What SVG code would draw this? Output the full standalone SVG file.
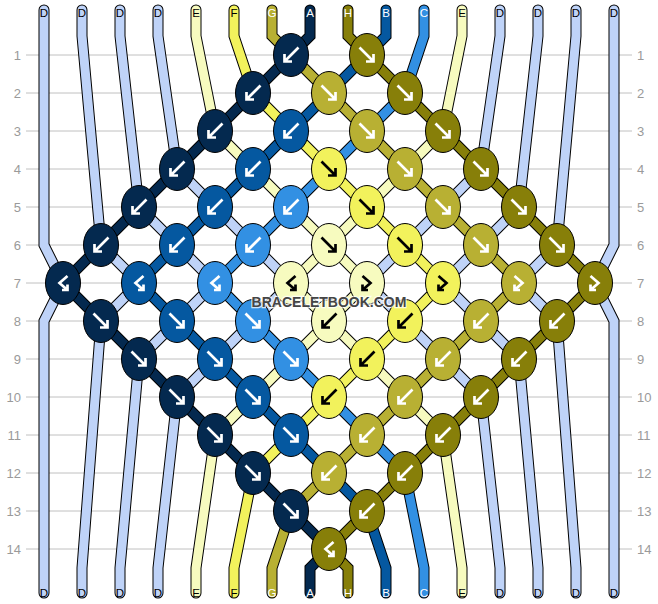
<svg xmlns="http://www.w3.org/2000/svg" width="658" height="604" viewBox="0 0 658 604">
<style>
.grid{stroke:#c0c0c0;stroke-width:1}
.rl{font-family:"Liberation Sans",Arial,sans-serif;font-size:13px;fill:#9a9a9a}
.o{fill:none;stroke:#000;stroke-width:11;stroke-linecap:round;stroke-linejoin:miter}
.s{fill:none;stroke-width:9;stroke-linecap:round;stroke-linejoin:miter}
.sA{stroke:#04294f}.sB{stroke:#0558a0}.sC{stroke:#3290e3}.sD{stroke:#bfd3f8}.sE{stroke:#f7fbbf}.sF{stroke:#f2f25c}.sG{stroke:#b8b033}.sH{stroke:#877f09}
.kA{fill:#04294f}.kB{fill:#0558a0}.kC{fill:#3290e3}.kE{fill:#f7fbbf}.kF{fill:#f2f25c}.kG{fill:#b8b033}.kH{fill:#877f09}
ellipse{stroke:#000;stroke-width:1}
.w{fill:none;stroke:#fff;stroke-width:2.7}
.b{fill:none;stroke:#000;stroke-width:2.7}
.lt{font-family:"Liberation Sans",Arial,sans-serif;font-size:11.5px;text-anchor:middle}
.lw{fill:#fff}.lk{fill:#000}
.wm{font-family:"Liberation Sans",Arial,sans-serif;font-size:14px;font-weight:bold;fill:#454545;stroke:#fff;stroke-width:2.5;stroke-opacity:0.75;paint-order:stroke;text-anchor:middle}
</style>
<defs>
<path id="af" d="M-7.5,-7.5 L6.5,6.5 M6.5,-1 V6.5 H-1"/>
<path id="ab" d="M7.5,-7.5 L-6.5,6.5 M-6.5,-1 V6.5 H1"/>
<path id="abf" d="M4.5,-7 L-3.5,0 L4.5,7 M4.5,1.5 V7 H-1"/>
<path id="afb" d="M-4.5,-7 L3.5,0 L-4.5,7 M-4.5,1.5 V7 H1"/>
</defs>
<rect width="658" height="604" fill="#fff"/>
<g id="grid">
<line class="grid" x1="26" y1="55" x2="632" y2="55"/><line class="grid" x1="26" y1="93" x2="632" y2="93"/><line class="grid" x1="26" y1="131" x2="632" y2="131"/><line class="grid" x1="26" y1="169" x2="632" y2="169"/><line class="grid" x1="26" y1="207" x2="632" y2="207"/><line class="grid" x1="26" y1="245" x2="632" y2="245"/><line class="grid" x1="26" y1="283" x2="632" y2="283"/><line class="grid" x1="26" y1="321" x2="632" y2="321"/><line class="grid" x1="26" y1="359" x2="632" y2="359"/><line class="grid" x1="26" y1="397" x2="632" y2="397"/><line class="grid" x1="26" y1="435" x2="632" y2="435"/><line class="grid" x1="26" y1="473" x2="632" y2="473"/><line class="grid" x1="26" y1="511" x2="632" y2="511"/><line class="grid" x1="26" y1="549" x2="632" y2="549"/>
</g>
<g id="row-labels" class="rl">
<g text-anchor="end">
<text x="21" y="59.5">1</text><text x="21" y="97.5">2</text><text x="21" y="135.5">3</text><text x="21" y="173.5">4</text><text x="21" y="211.5">5</text><text x="21" y="249.5">6</text><text x="21" y="287.5">7</text><text x="21" y="325.5">8</text><text x="21" y="363.5">9</text><text x="21" y="401.5">10</text><text x="21" y="439.5">11</text><text x="21" y="477.5">12</text><text x="21" y="515.5">13</text><text x="21" y="553.5">14</text>
</g>
<g text-anchor="start">
<text x="637" y="59.5">1</text><text x="637" y="97.5">2</text><text x="637" y="135.5">3</text><text x="637" y="173.5">4</text><text x="637" y="211.5">5</text><text x="637" y="249.5">6</text><text x="637" y="287.5">7</text><text x="637" y="325.5">8</text><text x="637" y="363.5">9</text><text x="637" y="401.5">10</text><text x="637" y="439.5">11</text><text x="637" y="477.5">12</text><text x="637" y="515.5">13</text><text x="637" y="553.5">14</text>
</g>
</g>
<g id="connectors">
<g id="outlines" class="o">
<path d="M44,10 V245 L63,283 L44,321 V593"/>
<path d="M82,10 V36 L101,245 L139,283 L101,321 L82,568 V593"/>
<path d="M120,10 V36 L139,207 L177,245 L215,283 L177,321 L139,359 L120,568 V593"/>
<path d="M158,10 V36 L177,169 L215,207 L253,245 L291,283 L253,321 L215,359 L177,397 L158,568 V593"/>
<path d="M196,10 V36 L215,131 L253,169 L291,207 L329,245 L367,283 L329,321 L291,359 L253,397 L215,435 L196,568 V593"/>
<path d="M234,10 V36 L253,93 L291,131 L329,169 L367,207 L405,245 L443,283 L405,321 L367,359 L329,397 L291,435 L253,473 L234,568 V593"/>
<path d="M272,10 V36 L291,55 L329,93 L367,131 L405,169 L443,207 L481,245 L519,283 L481,321 L443,359 L405,397 L367,435 L329,473 L291,511 L272,568 V593"/>
<path d="M310,10 V36 L291,55 L253,93 L215,131 L177,169 L139,207 L101,245 L63,283 L101,321 L139,359 L177,397 L215,435 L253,473 L291,511 L329,549 L310,568 V593"/>
<path d="M348,10 V36 L367,55 L405,93 L443,131 L481,169 L519,207 L557,245 L595,283 L557,321 L519,359 L481,397 L443,435 L405,473 L367,511 L329,549 L348,568 V593"/>
<path d="M386,10 V36 L367,55 L329,93 L291,131 L253,169 L215,207 L177,245 L139,283 L177,321 L215,359 L253,397 L291,435 L329,473 L367,511 L386,568 V593"/>
<path d="M424,10 V36 L405,93 L367,131 L329,169 L291,207 L253,245 L215,283 L253,321 L291,359 L329,397 L367,435 L405,473 L424,568 V593"/>
<path d="M462,10 V36 L443,131 L405,169 L367,207 L329,245 L291,283 L329,321 L367,359 L405,397 L443,435 L462,568 V593"/>
<path d="M500,10 V36 L481,169 L443,207 L405,245 L367,283 L405,321 L443,359 L481,397 L500,568 V593"/>
<path d="M538,10 V36 L519,207 L481,245 L443,283 L481,321 L519,359 L538,568 V593"/>
<path d="M576,10 V36 L557,245 L519,283 L557,321 L576,568 V593"/>
<path d="M614,10 V245 L595,283 L614,321 V593"/>
</g>
<g id="strings">
<path id="s0" class="s sD" d="M44,10 V245 L63,283 L44,321 V593"/>
<path id="s1" class="s sD" d="M82,10 V36 L101,245 L139,283 L101,321 L82,568 V593"/>
<path id="s2" class="s sD" d="M120,10 V36 L139,207 L177,245 L215,283 L177,321 L139,359 L120,568 V593"/>
<path id="s3" class="s sD" d="M158,10 V36 L177,169 L215,207 L253,245 L291,283 L253,321 L215,359 L177,397 L158,568 V593"/>
<path id="s4" class="s sE" d="M196,10 V36 L215,131 L253,169 L291,207 L329,245 L367,283 L329,321 L291,359 L253,397 L215,435 L196,568 V593"/>
<path id="s5" class="s sF" d="M234,10 V36 L253,93 L291,131 L329,169 L367,207 L405,245 L443,283 L405,321 L367,359 L329,397 L291,435 L253,473 L234,568 V593"/>
<path id="s6" class="s sG" d="M272,10 V36 L291,55 L329,93 L367,131 L405,169 L443,207 L481,245 L519,283 L481,321 L443,359 L405,397 L367,435 L329,473 L291,511 L272,568 V593"/>
<path id="s7" class="s sA" d="M310,10 V36 L291,55 L253,93 L215,131 L177,169 L139,207 L101,245 L63,283 L101,321 L139,359 L177,397 L215,435 L253,473 L291,511 L329,549 L310,568 V593"/>
<path id="s8" class="s sH" d="M348,10 V36 L367,55 L405,93 L443,131 L481,169 L519,207 L557,245 L595,283 L557,321 L519,359 L481,397 L443,435 L405,473 L367,511 L329,549 L348,568 V593"/>
<path id="s9" class="s sB" d="M386,10 V36 L367,55 L329,93 L291,131 L253,169 L215,207 L177,245 L139,283 L177,321 L215,359 L253,397 L291,435 L329,473 L367,511 L386,568 V593"/>
<path id="s10" class="s sC" d="M424,10 V36 L405,93 L367,131 L329,169 L291,207 L253,245 L215,283 L253,321 L291,359 L329,397 L367,435 L405,473 L424,568 V593"/>
<path id="s11" class="s sE" d="M462,10 V36 L443,131 L405,169 L367,207 L329,245 L291,283 L329,321 L367,359 L405,397 L443,435 L462,568 V593"/>
<path id="s12" class="s sD" d="M500,10 V36 L481,169 L443,207 L405,245 L367,283 L405,321 L443,359 L481,397 L500,568 V593"/>
<path id="s13" class="s sD" d="M538,10 V36 L519,207 L481,245 L443,283 L481,321 L519,359 L538,568 V593"/>
<path id="s14" class="s sD" d="M576,10 V36 L557,245 L519,283 L557,321 L576,568 V593"/>
<path id="s15" class="s sD" d="M614,10 V245 L595,283 L614,321 V593"/>
</g>
</g>
<g id="string-labels" class="lt">
<text class="lk" x="44" y="16.5">D</text><text class="lk" x="82" y="16.5">D</text><text class="lk" x="120" y="16.5">D</text><text class="lk" x="158" y="16.5">D</text><text class="lk" x="196" y="16.5">E</text><text class="lk" x="234" y="16.5">F</text><text class="lw" x="272" y="16.5">G</text><text class="lw" x="310" y="16.5">A</text><text class="lw" x="348" y="16.5">H</text><text class="lw" x="386" y="16.5">B</text><text class="lw" x="424" y="16.5">C</text><text class="lk" x="462" y="16.5">E</text><text class="lk" x="500" y="16.5">D</text><text class="lk" x="538" y="16.5">D</text><text class="lk" x="576" y="16.5">D</text><text class="lk" x="614" y="16.5">D</text>
<text class="lk" x="44" y="597">D</text><text class="lk" x="82" y="597">D</text><text class="lk" x="120" y="597">D</text><text class="lk" x="158" y="597">D</text><text class="lk" x="196" y="597">E</text><text class="lk" x="234" y="597">F</text><text class="lw" x="272" y="597">G</text><text class="lw" x="310" y="597">A</text><text class="lw" x="348" y="597">H</text><text class="lw" x="386" y="597">B</text><text class="lw" x="424" y="597">C</text><text class="lk" x="462" y="597">E</text><text class="lk" x="500" y="597">D</text><text class="lk" x="538" y="597">D</text><text class="lk" x="576" y="597">D</text><text class="lk" x="614" y="597">D</text>
</g>
<g id="knots">
<g id="k1-3"><ellipse class="kA" cx="291" cy="55" rx="17.5" ry="21.5"/><use href="#ab" x="291" y="55" class="w"/></g>
<g id="k1-4"><ellipse class="kH" cx="367" cy="55" rx="17.5" ry="21.5"/><use href="#af" x="367" y="55" class="w"/></g>
<g id="k2-2"><ellipse class="kA" cx="253" cy="93" rx="17.5" ry="21.5"/><use href="#ab" x="253" y="93" class="w"/></g>
<g id="k2-3"><ellipse class="kG" cx="329" cy="93" rx="17.5" ry="21.5"/><use href="#af" x="329" y="93" class="w"/></g>
<g id="k2-4"><ellipse class="kH" cx="405" cy="93" rx="17.5" ry="21.5"/><use href="#af" x="405" y="93" class="w"/></g>
<g id="k3-2"><ellipse class="kA" cx="215" cy="131" rx="17.5" ry="21.5"/><use href="#ab" x="215" y="131" class="w"/></g>
<g id="k3-3"><ellipse class="kB" cx="291" cy="131" rx="17.5" ry="21.5"/><use href="#ab" x="291" y="131" class="w"/></g>
<g id="k3-4"><ellipse class="kG" cx="367" cy="131" rx="17.5" ry="21.5"/><use href="#af" x="367" y="131" class="w"/></g>
<g id="k3-5"><ellipse class="kH" cx="443" cy="131" rx="17.5" ry="21.5"/><use href="#af" x="443" y="131" class="w"/></g>
<g id="k4-1"><ellipse class="kA" cx="177" cy="169" rx="17.5" ry="21.5"/><use href="#ab" x="177" y="169" class="w"/></g>
<g id="k4-2"><ellipse class="kB" cx="253" cy="169" rx="17.5" ry="21.5"/><use href="#ab" x="253" y="169" class="w"/></g>
<g id="k4-3"><ellipse class="kF" cx="329" cy="169" rx="17.5" ry="21.5"/><use href="#af" x="329" y="169" class="b"/></g>
<g id="k4-4"><ellipse class="kG" cx="405" cy="169" rx="17.5" ry="21.5"/><use href="#af" x="405" y="169" class="w"/></g>
<g id="k4-5"><ellipse class="kH" cx="481" cy="169" rx="17.5" ry="21.5"/><use href="#af" x="481" y="169" class="w"/></g>
<g id="k5-1"><ellipse class="kA" cx="139" cy="207" rx="17.5" ry="21.5"/><use href="#ab" x="139" y="207" class="w"/></g>
<g id="k5-2"><ellipse class="kB" cx="215" cy="207" rx="17.5" ry="21.5"/><use href="#ab" x="215" y="207" class="w"/></g>
<g id="k5-3"><ellipse class="kC" cx="291" cy="207" rx="17.5" ry="21.5"/><use href="#ab" x="291" y="207" class="w"/></g>
<g id="k5-4"><ellipse class="kF" cx="367" cy="207" rx="17.5" ry="21.5"/><use href="#af" x="367" y="207" class="b"/></g>
<g id="k5-5"><ellipse class="kG" cx="443" cy="207" rx="17.5" ry="21.5"/><use href="#af" x="443" y="207" class="w"/></g>
<g id="k5-6"><ellipse class="kH" cx="519" cy="207" rx="17.5" ry="21.5"/><use href="#af" x="519" y="207" class="w"/></g>
<g id="k6-0"><ellipse class="kA" cx="101" cy="245" rx="17.5" ry="21.5"/><use href="#ab" x="101" y="245" class="w"/></g>
<g id="k6-1"><ellipse class="kB" cx="177" cy="245" rx="17.5" ry="21.5"/><use href="#ab" x="177" y="245" class="w"/></g>
<g id="k6-2"><ellipse class="kC" cx="253" cy="245" rx="17.5" ry="21.5"/><use href="#ab" x="253" y="245" class="w"/></g>
<g id="k6-3"><ellipse class="kE" cx="329" cy="245" rx="17.5" ry="21.5"/><use href="#af" x="329" y="245" class="b"/></g>
<g id="k6-4"><ellipse class="kF" cx="405" cy="245" rx="17.5" ry="21.5"/><use href="#af" x="405" y="245" class="b"/></g>
<g id="k6-5"><ellipse class="kG" cx="481" cy="245" rx="17.5" ry="21.5"/><use href="#af" x="481" y="245" class="w"/></g>
<g id="k6-6"><ellipse class="kH" cx="557" cy="245" rx="17.5" ry="21.5"/><use href="#af" x="557" y="245" class="w"/></g>
<g id="k7-0"><ellipse class="kA" cx="63" cy="283" rx="17.5" ry="21.5"/><use href="#abf" x="63" y="283" class="w"/></g>
<g id="k7-1"><ellipse class="kB" cx="139" cy="283" rx="17.5" ry="21.5"/><use href="#abf" x="139" y="283" class="w"/></g>
<g id="k7-2"><ellipse class="kC" cx="215" cy="283" rx="17.5" ry="21.5"/><use href="#abf" x="215" y="283" class="w"/></g>
<g id="k7-3"><ellipse class="kE" cx="291" cy="283" rx="17.5" ry="21.5"/><use href="#abf" x="291" y="283" class="b"/></g>
<g id="k7-4"><ellipse class="kE" cx="367" cy="283" rx="17.5" ry="21.5"/><use href="#afb" x="367" y="283" class="b"/></g>
<g id="k7-5"><ellipse class="kF" cx="443" cy="283" rx="17.5" ry="21.5"/><use href="#afb" x="443" y="283" class="b"/></g>
<g id="k7-6"><ellipse class="kG" cx="519" cy="283" rx="17.5" ry="21.5"/><use href="#afb" x="519" y="283" class="w"/></g>
<g id="k7-7"><ellipse class="kH" cx="595" cy="283" rx="17.5" ry="21.5"/><use href="#afb" x="595" y="283" class="w"/></g>
<g id="k8-0"><ellipse class="kA" cx="101" cy="321" rx="17.5" ry="21.5"/><use href="#af" x="101" y="321" class="w"/></g>
<g id="k8-1"><ellipse class="kB" cx="177" cy="321" rx="17.5" ry="21.5"/><use href="#af" x="177" y="321" class="w"/></g>
<g id="k8-2"><ellipse class="kC" cx="253" cy="321" rx="17.5" ry="21.5"/><use href="#af" x="253" y="321" class="w"/></g>
<g id="k8-3"><ellipse class="kE" cx="329" cy="321" rx="17.5" ry="21.5"/><use href="#ab" x="329" y="321" class="b"/></g>
<g id="k8-4"><ellipse class="kF" cx="405" cy="321" rx="17.5" ry="21.5"/><use href="#ab" x="405" y="321" class="b"/></g>
<g id="k8-5"><ellipse class="kG" cx="481" cy="321" rx="17.5" ry="21.5"/><use href="#ab" x="481" y="321" class="w"/></g>
<g id="k8-6"><ellipse class="kH" cx="557" cy="321" rx="17.5" ry="21.5"/><use href="#ab" x="557" y="321" class="w"/></g>
<g id="k9-1"><ellipse class="kA" cx="139" cy="359" rx="17.5" ry="21.5"/><use href="#af" x="139" y="359" class="w"/></g>
<g id="k9-2"><ellipse class="kB" cx="215" cy="359" rx="17.5" ry="21.5"/><use href="#af" x="215" y="359" class="w"/></g>
<g id="k9-3"><ellipse class="kC" cx="291" cy="359" rx="17.5" ry="21.5"/><use href="#af" x="291" y="359" class="w"/></g>
<g id="k9-4"><ellipse class="kF" cx="367" cy="359" rx="17.5" ry="21.5"/><use href="#ab" x="367" y="359" class="b"/></g>
<g id="k9-5"><ellipse class="kG" cx="443" cy="359" rx="17.5" ry="21.5"/><use href="#ab" x="443" y="359" class="w"/></g>
<g id="k9-6"><ellipse class="kH" cx="519" cy="359" rx="17.5" ry="21.5"/><use href="#ab" x="519" y="359" class="w"/></g>
<g id="k10-1"><ellipse class="kA" cx="177" cy="397" rx="17.5" ry="21.5"/><use href="#af" x="177" y="397" class="w"/></g>
<g id="k10-2"><ellipse class="kB" cx="253" cy="397" rx="17.5" ry="21.5"/><use href="#af" x="253" y="397" class="w"/></g>
<g id="k10-3"><ellipse class="kF" cx="329" cy="397" rx="17.5" ry="21.5"/><use href="#ab" x="329" y="397" class="b"/></g>
<g id="k10-4"><ellipse class="kG" cx="405" cy="397" rx="17.5" ry="21.5"/><use href="#ab" x="405" y="397" class="w"/></g>
<g id="k10-5"><ellipse class="kH" cx="481" cy="397" rx="17.5" ry="21.5"/><use href="#ab" x="481" y="397" class="w"/></g>
<g id="k11-2"><ellipse class="kA" cx="215" cy="435" rx="17.5" ry="21.5"/><use href="#af" x="215" y="435" class="w"/></g>
<g id="k11-3"><ellipse class="kB" cx="291" cy="435" rx="17.5" ry="21.5"/><use href="#af" x="291" y="435" class="w"/></g>
<g id="k11-4"><ellipse class="kG" cx="367" cy="435" rx="17.5" ry="21.5"/><use href="#ab" x="367" y="435" class="w"/></g>
<g id="k11-5"><ellipse class="kH" cx="443" cy="435" rx="17.5" ry="21.5"/><use href="#ab" x="443" y="435" class="w"/></g>
<g id="k12-2"><ellipse class="kA" cx="253" cy="473" rx="17.5" ry="21.5"/><use href="#af" x="253" y="473" class="w"/></g>
<g id="k12-3"><ellipse class="kG" cx="329" cy="473" rx="17.5" ry="21.5"/><use href="#ab" x="329" y="473" class="w"/></g>
<g id="k12-4"><ellipse class="kH" cx="405" cy="473" rx="17.5" ry="21.5"/><use href="#ab" x="405" y="473" class="w"/></g>
<g id="k13-3"><ellipse class="kA" cx="291" cy="511" rx="17.5" ry="21.5"/><use href="#af" x="291" y="511" class="w"/></g>
<g id="k13-4"><ellipse class="kH" cx="367" cy="511" rx="17.5" ry="21.5"/><use href="#ab" x="367" y="511" class="w"/></g>
<g id="k14-3"><ellipse class="kH" cx="329" cy="549" rx="17.5" ry="21.5"/><use href="#abf" x="329" y="549" class="w"/></g>
</g>
<text class="wm" x="329" y="307">BRACELETBOOK.COM</text>
</svg>
